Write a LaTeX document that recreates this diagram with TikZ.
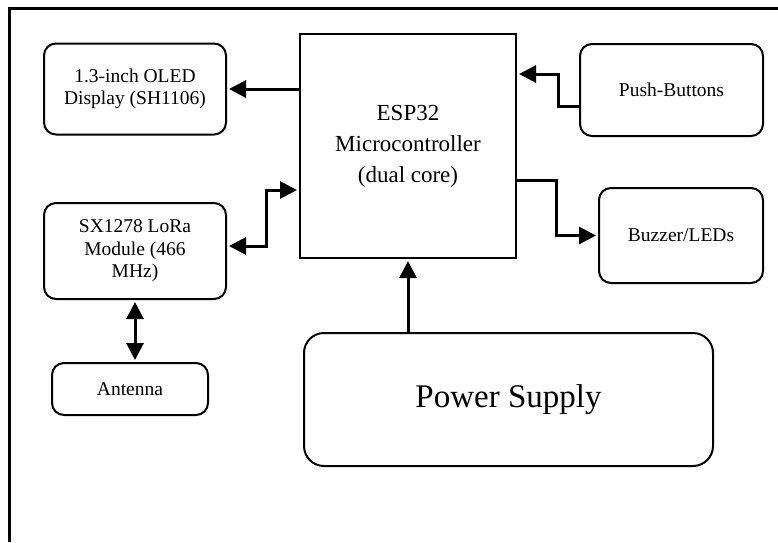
\documentclass[tikz,border=0pt]{standalone}
\usepackage{fontspec}
\setmainfont{Liberation Serif}
\usetikzlibrary{shapes,arrows.meta}

\begin{document}
\begin{tikzpicture}[x=1pt,y=-1pt]
        \tikzstyle{every path}=[line width=2pt]

        \tikzstyle{blk}=[draw,rounded corners=12pt,align=center,inner sep=2pt,font=\fontsize{19.5}{22.5}\selectfont]
        \tikzstyle{mcu}=[draw,align=center,font=\fontsize{23}{31}\selectfont]
        \tikzstyle{big}=[blk,rounded corners=20pt,font=\fontsize{33}{38}\selectfont]
        \tikzstyle{arr}=[line width=3pt,shorten >=2pt,-{Triangle[length=17pt,width=17pt]}]
        \tikzstyle{biarr}=[line width=3pt,shorten >=2pt,shorten <=2pt,{Triangle[length=17pt,width=17pt]}-{Triangle[length=17pt,width=17pt]}]

        \useasboundingbox (0,0) rectangle (778,542);
        \draw[line width=3pt] (778,8) -- (9,8) -- (9,542);   % frame

        \node [mcu,minimum width=216pt,minimum height=224pt] (esp) at (408,146)
            {ESP32\\Microcontroller\\(dual core)};
        \node [blk,minimum width=182pt,minimum height=91pt] (oled) at (135,89)
            {1.3-inch OLED\\Display (SH1106)};
        \node [blk,minimum width=182pt,minimum height=96pt] (lora) at (135,251)
            {SX1278 LoRa\\Module (466\\MHz)};
        \node [blk,minimum width=156pt,minimum height=52pt] (ant) at (130,389) {Antenna};
        \node [blk,minimum width=183pt,minimum height=92pt] (push) at (671.5,90) {Push-Buttons};
        \node [blk,minimum width=164pt,minimum height=95pt] (buzz) at (681,235.5) {Buzzer/LEDs};
        \node [big,minimum width=409pt,minimum height=133pt] (pwr) at (508.5,399.5) {Power Supply};

        \draw[arr] (esp.west |- oled.east) -- (oled.east);                          % esp->oled
        \draw[biarr] ([yshift=5pt]lora.east) -- ++(39,0) |- ([yshift=-44pt]esp.west); % lora<->esp
        \draw[biarr] (lora.south) -- (lora.south |- ant.north);                      % lora<->antenna
        \draw[arr] ([yshift=-16pt]push.west) -- ++(-21,0) |- ([yshift=72pt]esp.east); % buttons->esp
        \draw[arr] ([yshift=-34pt]esp.east) -- ++(39,0) |- (buzz.west);              % esp->buzzer
        \draw[arr] (esp.south |- pwr.north) -- (esp.south);                          % power->esp

\end{tikzpicture}
\end{document}
